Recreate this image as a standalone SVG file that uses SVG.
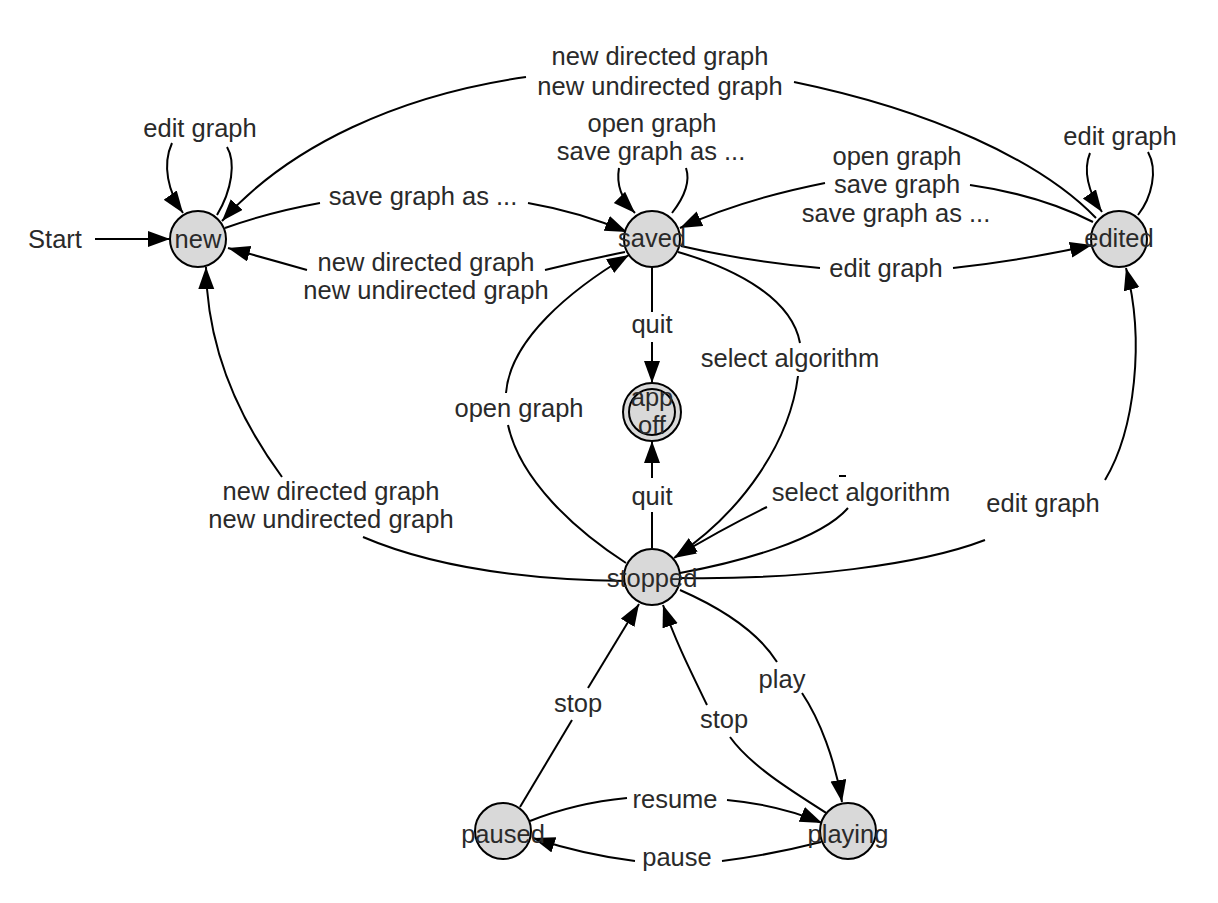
<svg xmlns="http://www.w3.org/2000/svg" width="1218" height="903" viewBox="0 0 1218 903">
<defs>
<marker id="ah" markerUnits="userSpaceOnUse" markerWidth="24" markerHeight="18" refX="22" refY="8" orient="auto">
<path d="M0,0 L22,8 L0,16 z" fill="#000"/>
</marker>
<style>
text{font-family:"Liberation Sans",Arial,sans-serif;font-size:25.5px;fill:#2a2a2a;text-anchor:middle}
.n{fill:#d9d9d9;stroke:#000;stroke-width:2}
.e path{fill:none;stroke:#000;stroke-width:2}
.e path.a{marker-end:url(#ah)}
</style>
</defs>
<rect width="1218" height="903" fill="#fff"/>
<g id="connectors" class="e">
<path class="a" d="M95,239 L170,239"/>
<path d="M217,215 C232,190 236,162 227,147"/>
<path class="a" d="M172,143 C162,165 168,192 183,213"/>
<path d="M225,228 Q270,212 320,203"/>
<path class="a" d="M528,203 Q580,212 627,232"/>
<path d="M625,252 Q585,260 545,270"/>
<path class="a" d="M307,270 Q265,258 228,248"/>
<path d="M1096,218 C1040,160 930,110 794,82"/>
<path class="a" d="M526,77 C400,95 290,145 222,221"/>
<path d="M672,213 C686,195 690,180 686,168"/>
<path class="a" d="M619,168 C616,185 622,200 635,213"/>
<path d="M1138,215 C1152,197 1158,170 1148,152"/>
<path class="a" d="M1090,153 C1083,170 1088,192 1102,212"/>
<path d="M1093,222 Q1040,195 970,185"/>
<path class="a" d="M825,183 Q740,200 680,228"/>
<path d="M681,246 Q750,262 820,268"/>
<path class="a" d="M953,268 Q1025,260 1092,245"/>
<path d="M652,267 L652,312"/>
<path class="a" d="M652,342 L652,383"/>
<path d="M678,252 C740,270 792,300 800,343"/>
<path class="a" d="M798,376 C790,440 745,510 675,557"/>
<path d="M626,563 C575,530 520,480 508,425"/>
<path class="a" d="M506,393 C510,340 570,290 629,255"/>
<path d="M652,548 L652,512"/>
<path class="a" d="M652,478 L652,441"/>
<path class="a" d="M767,507 Q720,530 674,558"/>
<path d="M680,573 C740,562 820,540 848,508"/>
<path d="M839,476 L846,476"/>
<path d="M626,581 C540,580 440,570 363,537"/>
<path class="a" d="M282,477 C240,420 207,350 206,267"/>
<path d="M680,578 C800,580 920,565 985,540"/>
<path class="a" d="M1105,480 C1135,430 1145,340 1126,268"/>
<path d="M680,590 C730,612 760,635 777,662"/>
<path class="a" d="M802,693 C820,720 835,760 842,802"/>
<path d="M520,807 L572,720"/>
<path class="a" d="M588,688 L639,604"/>
<path d="M828,814 C790,790 750,765 730,737"/>
<path class="a" d="M707,705 C690,670 675,640 663,605"/>
<path d="M530,821 Q575,803 627,798"/>
<path class="a" d="M727,800 Q780,805 822,823"/>
<path d="M821,842 Q770,855 722,861"/>
<path class="a" d="M635,861 Q585,855 533,838"/>
</g>
<g id="labels">
<text x="55" y="248">Start</text>
<text x="200" y="137">edit graph</text>
<text x="660" y="65">new directed graph</text>
<text x="660" y="95">new undirected graph</text>
<text x="652" y="132">open graph</text>
<text x="651" y="160">save graph as ...</text>
<text x="423" y="205">save graph as ...</text>
<text x="426" y="271">new directed graph</text>
<text x="426" y="299">new undirected graph</text>
<text x="897" y="165">open graph</text>
<text x="897" y="193">save graph</text>
<text x="896" y="222">save graph as ...</text>
<text x="1120" y="145">edit graph</text>
<text x="886" y="277">edit graph</text>
<text x="652" y="333">quit</text>
<text x="790" y="367">select algorithm</text>
<text x="519" y="417">open graph</text>
<text x="331" y="500">new directed graph</text>
<text x="331" y="528">new undirected graph</text>
<text x="652" y="505">quit</text>
<text x="861" y="501">select algorithm</text>
<text x="1043" y="512">edit graph</text>
<text x="578" y="712">stop</text>
<text x="724" y="728">stop</text>
<text x="782" y="688">play</text>
<text x="675" y="808">resume</text>
<text x="677" y="866">pause</text>
</g>
<g id="node-new"><circle class="n" cx="198" cy="239" r="28"/><text x="198" y="248">new</text></g>
<g id="node-saved"><circle class="n" cx="652" cy="239" r="28"/><text x="652" y="247">saved</text></g>
<g id="node-edited"><circle class="n" cx="1119" cy="239" r="28"/><text x="1119" y="247">edited</text></g>
<g id="node-appoff"><circle class="n" cx="652" cy="412" r="29"/><circle class="n" cx="652" cy="412" r="23"/><text x="652" y="406">app</text><text x="652" y="434">off</text></g>
<g id="node-stopped"><circle class="n" cx="652" cy="577" r="28"/><text x="652" y="587">stopped</text></g>
<g id="node-paused"><circle class="n" cx="503" cy="831" r="28"/><text x="503" y="843">paused</text></g>
<g id="node-playing"><circle class="n" cx="848" cy="831" r="28"/><text x="848" y="843">playing</text></g>
</svg>
